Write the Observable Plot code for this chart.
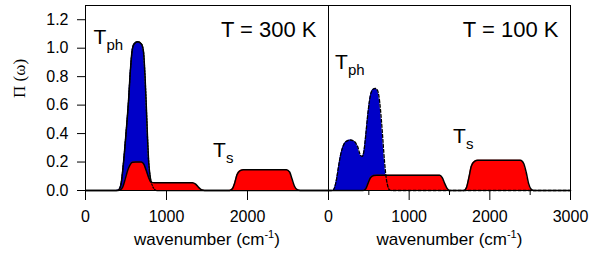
<!DOCTYPE html>
<html><head><meta charset="utf-8">
<script src="https://cdn.jsdelivr.net/npm/d3@7"></script>
<script src="https://cdn.jsdelivr.net/npm/@observablehq/plot@0.6"></script>
<style>
body{margin:0;background:#fff}
#chart{position:relative;width:591px;height:257px;font-family:'Liberation Sans',Arial,sans-serif}
#chart svg{position:absolute;top:0;overflow:visible;background:transparent}
</style></head><body><div id="chart"></div>
<script>
// tick values
const xTicksLeft = [0, 1000, 2000];
const xTicksRight = [0, 1000, 2000, 3000];
const xMinorRight = [500, 1500, 2500];
const yTicks = [0, 0.2, 0.4, 0.6, 0.8, 1.0, 1.2];
const xLabel = "wavenumber (cm-1)";
const yLabel = "\u03A0 (\u03C9)";

// T = 300 K : phonon (blue) and spin (red) contributions
const Tph300 = [[0,0],[380,0],[410,0.005],[440,0.05],[470,0.2],[500,0.4],[530,0.62],[555,0.85],[575,0.98],[600,1.03],[645,1.045],[690,1.03],[715,0.98],[735,0.8],[750,0.6],[765,0.38],[780,0.2],[800,0.09],[825,0.035],[850,0.01],[880,0],[3000,0]];
const Ts300 = [[0,0],[400,0],[430,0.005],[460,0.025],[490,0.08],[520,0.14],[550,0.18],[580,0.198],[620,0.2],[690,0.2],[720,0.185],[750,0.14],[780,0.09],[800,0.065],[820,0.057],[850,0.055],[1320,0.055],[1360,0.045],[1400,0.02],[1440,0.003],[1470,0],[1780,0],[1810,0.01],[1840,0.05],[1870,0.11],[1910,0.14],[1950,0.146],[2480,0.146],[2520,0.13],[2550,0.08],[2580,0.03],[2620,0.003],[2650,0],[3000,0]];

// T = 100 K
const Tph100 = [[0,0],[50,0],[75,0.02],[100,0.08],[125,0.17],[150,0.25],[180,0.31],[220,0.345],[270,0.355],[320,0.345],[360,0.31],[400,0.245],[420,0.24],[440,0.28],[460,0.38],[490,0.55],[520,0.67],[550,0.71],[580,0.717],[610,0.7],[635,0.62],[655,0.5],[675,0.35],[695,0.2],[715,0.09],[735,0.03],[755,0.005],[780,0],[3000,0]];
const Ts100 = [[0,0],[430,0],[460,0.01],[490,0.05],[520,0.09],[560,0.105],[600,0.108],[1380,0.108],[1410,0.09],[1440,0.05],[1470,0.015],[1500,0],[1680,0],[1710,0.02],[1740,0.09],[1770,0.17],[1810,0.205],[1850,0.213],[2380,0.213],[2420,0.19],[2450,0.13],[2480,0.05],[2510,0.01],[2540,0],[3000,0]];

// annotations (data coordinates)
const titles300 = [{x: 2852, y: 1.129, t: "T = 300 K"}];
const titles100 = [{x: 2851, y: 1.129, t: "T = 100 K"}];
const sym300 = [{x: 99, y: 1.080, t: "T", s: "ph"}, {x: 1574, y: 0.286, t: "T", s: "s"}];
const sym100 = [{x: 80, y: 0.904, t: "T", s: "ph"}, {x: 1543, y: 0.384, t: "T", s: "s"}];

const BLUE = "#0000c8", RED = "#ff0000";
const cv = "monotone-x";
const common = {height: 257, marginTop: 5, marginBottom: 67, x: {domain: [0, 3000]}, y: {domain: [0, 1.3]},
  style: "overflow: visible; background: transparent; font-family: 'Liberation Sans', Arial, sans-serif;"};
const X = d => d[0], Y = d => d[1];

function annot(titles, syms) {
  return [
    Plot.text(titles, {x: "x", y: "y", text: "t", textAnchor: "end", fontSize: 22}),
    Plot.text(syms, {x: "x", y: "y", text: "t", textAnchor: "start", fontSize: 21}),
    Plot.text(syms, {x: "x", y: "y", text: "s", textAnchor: "start", fontSize: 15, dx: 13, dy: 8}),
    Plot.text([xLabel], {frameAnchor: "bottom", dy: 54.6, fontSize: 17})
  ];
}

const left = Plot.plot({...common, width: 328, marginLeft: 85, marginRight: 0,
  marks: [
    Plot.areaY(Tph300, {x: X, y: Y, fill: BLUE, curve: cv}),
    Plot.lineY(Tph300, {x: X, y: Y, stroke: "black", strokeWidth: 1.5, curve: cv}),
    Plot.areaY(Ts300, {x: X, y: Y, fill: RED, curve: cv}),
    Plot.lineY(Ts300, {x: X, y: Y, stroke: "black", strokeWidth: 1.5, curve: cv}),
    Plot.lineY(Tph300, {x: X, y: Y, stroke: "black", strokeWidth: 1.2, strokeDasharray: "1.5,1.5", curve: cv}),
    Plot.frame({stroke: "black", strokeWidth: 1}),
    Plot.axisX({ticks: [...xTicksLeft, 3000], tickSize: 10, tickPadding: 10, fontSize: 16, label: null,
      tickFormat: d => xTicksLeft.includes(d) ? String(d) : ""}),
    Plot.axisY({ticks: yTicks, tickSize: 8, tickPadding: 9, fontSize: 16, label: null, tickFormat: d3.format(".1f")}),
    Plot.text([yLabel], {frameAnchor: "left", rotate: -90, dx: -66, fontSize: 17, fontFamily: "'Liberation Serif', 'Times New Roman', serif"}),
    ...annot(titles300, sym300)
  ]});

const right = Plot.plot({...common, width: 263, marginLeft: 0, marginRight: 21,
  y: {domain: [0, 1.3], axis: null},
  marks: [
    Plot.areaY(Tph100, {x: X, y: Y, fill: BLUE, curve: cv}),
    Plot.areaY(Ts100, {x: X, y: Y, fill: RED, curve: cv}),
    Plot.lineY(Ts100, {x: X, y: Y, stroke: "black", strokeWidth: 1.5, curve: cv}),
    Plot.lineY(Tph100, {x: X, y: Y, stroke: "black", strokeWidth: 1.3, strokeDasharray: "3,2", curve: cv}),
    Plot.frame({stroke: "black", strokeWidth: 1}),
    Plot.axisX({ticks: xTicksRight, tickSize: 10, tickPadding: 10, fontSize: 16, label: null, tickFormat: d => String(d)}),
    Plot.axisX({ticks: xMinorRight, tickSize: 5, label: null, tickFormat: () => ""}),
    ...annot(titles100, sym100)
  ]});

const chart = document.getElementById("chart");
left.style.left = "0px";
right.style.left = "328px";
chart.appendChild(left);
chart.appendChild(right);

// superscript in the axis title
for (const svg of [left, right]) {
  d3.select(svg).selectAll("text").filter(function() { return this.textContent === xLabel; })
    .each(function() {
      const t = d3.select(this);
      t.text(null);
      t.append("tspan").text("wavenumber (cm");
      t.append("tspan").attr("dy", -7).attr("font-size", 11).text("-1");
      t.append("tspan").attr("dy", 7).text(")");
    });
}
</script></body></html>
